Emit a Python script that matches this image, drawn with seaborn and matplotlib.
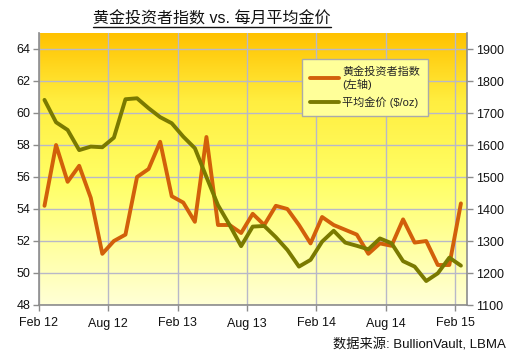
import numpy as np
import pandas as pd
import matplotlib
matplotlib.use("Agg")
import matplotlib.pyplot as plt
import seaborn as sns
from matplotlib.colors import LinearSegmentedColormap
from matplotlib.lines import Line2D

# ---- data ----
month_labels = ["Feb 12", "Aug 12", "Feb 13", "Aug 13", "Feb 14", "Aug 14", "Feb 15"]
investor_index = [54.2, 58.0, 55.7, 56.7, 54.7, 51.2, 52.0, 52.4, 56.0, 56.5,
                  58.2, 54.8, 54.4, 53.2, 58.5, 53.0, 53.0, 52.5, 53.7, 53.0,
                  54.2, 54.0, 53.0, 51.85, 53.5, 53.0, 52.7, 52.4, 51.2, 51.85,
                  51.7, 53.35, 51.9, 52.0, 50.5, 50.5, 54.35]
gold_price = [1741, 1671, 1647, 1584, 1595, 1593, 1623, 1743, 1746, 1715,
              1687, 1668, 1626, 1590, 1500, 1412, 1350, 1284, 1345, 1347,
              1312, 1272, 1220, 1241, 1298, 1332, 1295, 1285, 1274, 1308,
              1293, 1237, 1220, 1175, 1199, 1248, 1223]
series_names = ["黄金投资者指数\n(左轴)", "平均金价 ($/oz)"]
title_text = "黄金投资者指数 vs. 每月平均金价"
source_text = "数据来源: BullionVault, LBMA"

n = len(investor_index)
df = pd.DataFrame({"month": np.arange(n) + 0.5,
                   "index": investor_index,
                   "gold": gold_price})

sns.set_theme(style="white")
plt.rcParams["font.family"] = ["Liberation Sans", "Noto Sans CJK SC", "DejaVu Sans"]

fig = plt.figure(figsize=(5.10, 3.53), dpi=100)
ax = fig.add_axes([38.7 / 510, 48 / 353, 428 / 510, 272 / 353])
ax2 = ax.twinx()

# gradient background
cmap = LinearSegmentedColormap.from_list(
    "bg", [(0.0, "#FFFFD6"), (0.45, "#FFFF66"), (0.75, "#FFEE40"), (1.0, "#FFC200")])
grad = np.linspace(0, 1, 256).reshape(-1, 1)
ax.imshow(grad, cmap=cmap, aspect="auto", extent=[0, 1, 0, 1],
          transform=ax.transAxes, origin="lower", zorder=0)

orange = "#D2600A"
olive = "#7A7A00"

sns.lineplot(data=df, x="month", y="index", ax=ax, color=orange, lw=2.8,
             label=series_names[0], legend=False, zorder=3)
sns.lineplot(data=df, x="month", y="gold", ax=ax2, color=olive, lw=2.8,
             label=series_names[1], legend=False, zorder=3)

ax.set_xlim(0, 37)
ax.set_ylim(48, 65)
ax2.set_ylim(1100, 1950)
ax.set_xticks(np.arange(0, 37, 6))
ax.set_xticklabels(month_labels)
ax.set_yticks(np.arange(48, 65, 2))
ax2.set_yticks(np.arange(1100, 1901, 100))
ax.set_xlabel("")
ax.set_ylabel("")
ax2.set_ylabel("")

ax.set_axisbelow(True)
ax.grid(True, color="#B8B8C8", lw=1.0)
ax2.grid(False)

for a in (ax, ax2):
    for s in a.spines.values():
        s.set_visible(False)
ax2.patch.set_visible(False)
for side in ("left", "bottom"):
    ax.spines[side].set_visible(True)
    ax.spines[side].set_color("#8C8C8C")
    ax.spines[side].set_linewidth(1.2)
ax2.spines["right"].set_visible(True)
ax2.spines["right"].set_color("#8C8C8C")
ax2.spines["right"].set_linewidth(1.2)

ax.tick_params(axis="both", which="both", direction="out", length=4, width=1,
               color="#8C8C8C", labelsize=9, pad=2, labelcolor="#111111",
               left=True, bottom=True)
ax2.tick_params(axis="y", direction="out", length=4, width=1, color="#8C8C8C",
                labelsize=9, pad=3, labelcolor="#111111", right=True)
ax.tick_params(axis="x", pad=5)

# legend
h1, l1 = ax.get_legend_handles_labels()
h2, l2 = ax2.get_legend_handles_labels()
leg = ax2.legend(h1 + h2, l1 + l2, loc="upper left",
                 bbox_to_anchor=(0.615, 0.905), frameon=True, fancybox=False,
                 facecolor="#FFFF99", edgecolor="#AAAAAA", framealpha=1,
                 fontsize=8, handlelength=2.6, handletextpad=0.3,
                 borderpad=0.7, labelspacing=0.6, borderaxespad=0)
leg.get_frame().set_linewidth(1.0)

# title with underline
t = fig.text(0.416, 0.947, title_text, ha="center", va="center", fontsize=11.5,
             color="#111111")
# source
fig.text(0.992, 0.024, source_text, ha="right", va="center", fontsize=9.5,
         color="#111111")

fig.canvas.draw()
bb = t.get_window_extent()
inv = fig.transFigure.inverted()
x0, y0 = inv.transform((bb.x0, bb.y0 - 1))
x1, _ = inv.transform((bb.x1, bb.y0 - 1))
fig.add_artist(Line2D([x0, x1], [y0, y0], transform=fig.transFigure,
                      color="#111111", lw=1.0))

fig.savefig("out.png", dpi=100, facecolor="white")
